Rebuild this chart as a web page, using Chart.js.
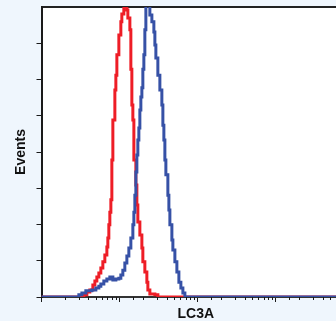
<!DOCTYPE html>
<html>
<head>
<meta charset="utf-8">
<script src="https://cdn.jsdelivr.net/npm/chart.js@4/dist/chart.umd.min.js"></script>
<style>
  html, body { margin: 0; padding: 0; background: #eff6fd; overflow: hidden; width: 336px; height: 321px; }
  canvas { display: block; }
</style>
</head>
<body>
<canvas id="c" width="350" height="321"></canvas>
<script>
// ---- data ----
const xLabel = 'LC3A';
const yLabel = 'Events';
const xRange = [1, 8970];
const yRange = [0, 8];

const redX = [1, 3.49, 3.81, 4.16, 4.55, 4.83, 5.12, 5.43, 5.76, 6.11, 6.48, 6.88, 7.08, 7.29, 7.51, 7.74, 7.97, 8.21, 8.71, 8.97, 9.24, 9.80, 10.39, 10.70, 11.35, 12.41, 12.78, 13.56, 13.96, 14.38, 14.81, 15.26, 16.18, 16.67, 17.16, 18.21, 19.32, 19.89, 21.10, 22.39, 23.06, 24.46, 28.36, 30.97, 8970];
const redY = [0, 0.06, 0.14, 0.19, 0.33, 0.44, 0.55, 0.66, 0.80, 0.97, 1.16, 1.38, 1.63, 1.99, 2.34, 2.68, 3.78, 4.88, 5.71, 6.12, 6.68, 7.23, 7.59, 7.81, 8.3, 7.92, 7.70, 7.37, 6.28, 5.30, 4.88, 3.78, 3.09, 2.54, 2.07, 1.71, 1.35, 0.97, 0.69, 0.41, 0.19, 0.08, 0.06, 0, 0];

const blueX = [1, 3.01, 3.29, 3.70, 4.41, 4.97, 5.43, 5.76, 6.29, 6.88, 7.51, 8.21, 8.97, 9.80, 10.39, 11.02, 11.69, 12.41, 13.16, 13.96, 14.81, 15.26, 15.71, 16.18, 16.67, 17.16, 17.68, 18.21, 18.75, 19.32, 19.89, 20.49, 21.10, 21.74, 24.46, 25.95, 27.53, 28.36, 29.20, 30.97, 32.86, 34.85, 35.91, 36.98, 38.09, 39.23, 41.61, 42.87, 44.15, 46.83, 48.23, 51.17, 54.28, 57.59, 61.08, 64.80, 68.74, 8970];
const blueY = [0, 0.06, 0.11, 0.17, 0.19, 0.25, 0.30, 0.36, 0.44, 0.50, 0.55, 0.47, 0.50, 0.52, 0.61, 0.74, 0.94, 1.13, 1.35, 1.63, 1.99, 2.34, 2.81, 3.45, 3.92, 4.33, 4.66, 5.16, 5.52, 5.77, 6.28, 6.68, 7.37, 8.3, 7.78, 7.59, 7.31, 6.95, 6.59, 6.12, 5.71, 5.30, 4.74, 4.33, 3.78, 3.37, 2.81, 2.40, 1.99, 1.57, 1.30, 0.97, 0.69, 0.41, 0.25, 0.11, 0, 0];

const toPts = (xs, ys) => xs.map((x, i) => ({ x: x, y: ys[i] }));
const isMajor = v => { const l = Math.log10(v); return Math.abs(l - Math.round(l)) < 1e-6; };

const plotBg = {
  id: 'plotBg',
  beforeDraw(chart) {
    const { ctx, chartArea: a } = chart;
    ctx.save();
    ctx.fillStyle = '#ffffff';
    ctx.fillRect(a.left, a.top, a.right - a.left, a.bottom - a.top);
    ctx.restore();
  }
};
const minorTicks = {
  id: 'minorTicks',
  afterDraw(chart) {
    const s = chart.scales.x, ctx = chart.ctx;
    ctx.save();
    ctx.strokeStyle = '#1a1a1a';
    ctx.lineWidth = 1;
    s.ticks.forEach(t => {
      if (isMajor(t.value)) return;
      const px = Math.round(s.getPixelForValue(t.value)) + 0.5;
      ctx.beginPath();
      ctx.moveTo(px, s.top);
      ctx.lineTo(px, s.top + 3);
      ctx.stroke();
    });
    ctx.restore();
  }
};

new Chart(document.getElementById('c'), {
  type: 'line',
  data: {
    datasets: [
      { data: toPts(blueX, blueY), borderColor: '#3651a6', borderWidth: 3, stepped: true, pointRadius: 0, fill: false },
      { data: toPts(redX, redY), borderColor: '#ee1d26', borderWidth: 3, stepped: true, pointRadius: 0, fill: false }
    ]
  },
  options: {
    responsive: false,
    animation: false,
    devicePixelRatio: 1,
    layout: { padding: 0 },
    plugins: { legend: { display: false }, tooltip: { enabled: false } },
    scales: {
      x: {
        type: 'logarithmic',
        position: 'bottom',
        min: xRange[0], max: xRange[1],
        afterFit: s => { s.height = 24; },
        ticks: { display: false },
        grid: {
          drawOnChartArea: false, drawTicks: true, tickLength: 5, tickWidth: 1,
          tickColor: c => (c.tick && isMajor(c.tick.value)) ? '#1a1a1a' : 'rgba(0,0,0,0)'
        },
        border: { display: true, color: '#333', width: 2 },
        title: { display: true, text: xLabel, color: '#111', font: { family: 'Liberation Sans', size: 14, weight: 'bold', lineHeight: 1 }, padding: { top: 0, bottom: 0 } }
      },
      xTop: {
        type: 'linear',
        position: 'top',
        display: true,
        afterFit: s => { s.height = 7; },
        ticks: { display: false },
        grid: { display: false, drawTicks: false },
        border: { display: true, color: '#222', width: 2 }
      },
      y: {
        type: 'linear',
        min: yRange[0], max: yRange[1],
        afterFit: s => { s.width = 41.5; },
        ticks: { display: false, stepSize: 1 },
        grid: {
          drawOnChartArea: false, drawTicks: true, tickLength: 5, tickWidth: 1,
          tickColor: c => (c.tick && c.tick.value >= yRange[1]) ? 'rgba(0,0,0,0)' : '#1a1a1a'
        },
        border: { display: true, color: '#1a1a1a', width: 2 },
        title: { display: true, text: yLabel, color: '#111', font: { family: 'Liberation Sans', size: 14, weight: 'bold', lineHeight: 1 }, padding: { top: 14, bottom: 0 } }
      }
    }
  },
  plugins: [plotBg, minorTicks]
});
</script>
</body>
</html>
